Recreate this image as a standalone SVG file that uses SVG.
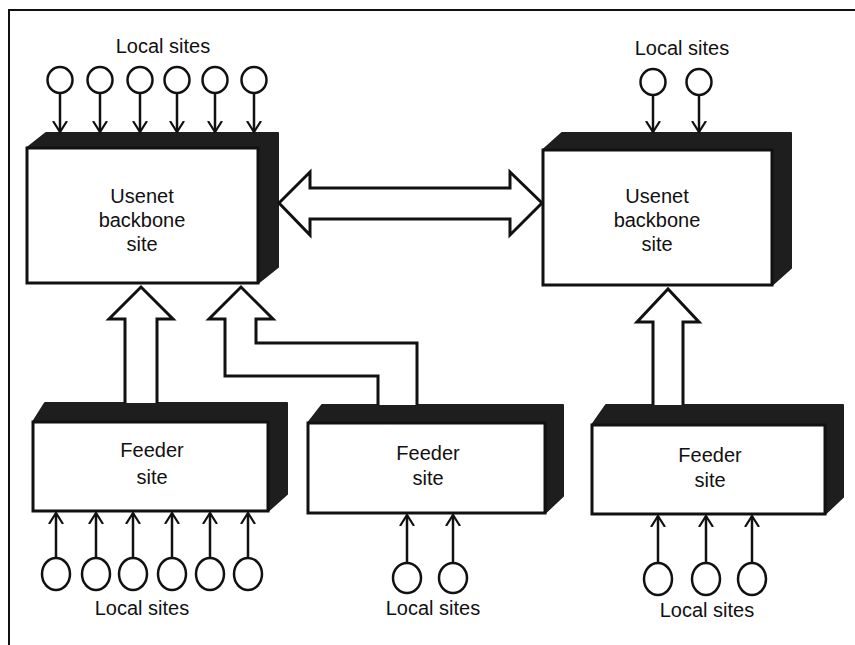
<svg xmlns="http://www.w3.org/2000/svg" width="855" height="645" viewBox="0 0 855 645">
<defs>
<style>
.frame{stroke:#111;stroke-width:2;fill:none}
.side{fill:#1e1e1e;stroke:#1e1e1e;stroke-width:2;stroke-linejoin:round}
.front{fill:#fff;stroke:#111;stroke-width:3}
.lbl{font-family:"Liberation Sans",Arial,sans-serif;font-size:20px;fill:#111;text-anchor:middle}
.site{fill:#fff;stroke:#111;stroke-width:2.5}
.thin{stroke:#111;stroke-width:2.5;fill:none}
.block{fill:#fff;stroke:#111;stroke-width:3;stroke-linejoin:miter}
</style>
<marker id="ah" viewBox="0 0 12 16" refX="11" refY="8" markerWidth="12" markerHeight="16" markerUnits="userSpaceOnUse" orient="auto">
<path d="M0,1 L11,8 L0,15" fill="none" stroke="#111" stroke-width="2.2"/>
</marker>
</defs>
<rect width="855" height="645" fill="#fff"/>
<path class="frame" d="M9,645 L9,10 L855,10"/>

<g id="backbone-left">
<polygon class="side" points="27,148 46,133 278,133 278,267 258,283 258,148"/>
<rect class="front" x="27" y="148" width="231" height="135"/>
<text class="lbl" x="142" y="203">Usenet</text>
<text class="lbl" x="142" y="227">backbone</text>
<text class="lbl" x="142" y="251">site</text>
</g>

<g id="backbone-right">
<polygon class="side" points="543,150 562,133 791,133 791,268 772,285 772,150"/>
<rect class="front" x="543" y="150" width="229" height="135"/>
<text class="lbl" x="657" y="203">Usenet</text>
<text class="lbl" x="657" y="227">backbone</text>
<text class="lbl" x="657" y="251">site</text>
</g>

<g id="feeder-left">
<polygon class="side" points="33,422 45,403 287,403 287,494 268,511 268,422"/>
<rect class="front" x="33" y="422" width="235" height="89"/>
<text class="lbl" x="152" y="457">Feeder</text>
<text class="lbl" x="152" y="484">site</text>
</g>

<g id="feeder-middle">
<polygon class="side" points="308,423 322,405 563,405 563,496 545,513 545,423"/>
<rect class="front" x="308" y="423" width="237" height="90"/>
<text class="lbl" x="428" y="460">Feeder</text>
<text class="lbl" x="428" y="485">site</text>
</g>

<g id="feeder-right">
<polygon class="side" points="592,425 606,405 843,405 843,497 825,514 825,425"/>
<rect class="front" x="592" y="425" width="233" height="89"/>
<text class="lbl" x="710" y="462">Feeder</text>
<text class="lbl" x="710" y="487">site</text>
</g>

<g id="local-top-left">
<text class="lbl" x="163" y="53">Local sites</text>
<ellipse class="site" cx="60" cy="80" rx="12.5" ry="13"/>
<ellipse class="site" cx="100" cy="80" rx="12.5" ry="13"/>
<ellipse class="site" cx="140" cy="80" rx="12.5" ry="13"/>
<ellipse class="site" cx="177" cy="80" rx="12.5" ry="13"/>
<ellipse class="site" cx="215" cy="80" rx="12.5" ry="13"/>
<ellipse class="site" cx="254" cy="80" rx="12.5" ry="13"/>
</g>

<g id="local-top-right">
<text class="lbl" x="682" y="55">Local sites</text>
<ellipse class="site" cx="653" cy="82" rx="12.5" ry="13"/>
<ellipse class="site" cx="699" cy="82" rx="12.5" ry="13"/>
</g>

<g id="local-bottom-left">
<ellipse class="site" cx="56" cy="574" rx="14" ry="16"/>
<ellipse class="site" cx="96" cy="574" rx="14" ry="16"/>
<ellipse class="site" cx="133" cy="574" rx="14" ry="16"/>
<ellipse class="site" cx="172" cy="574" rx="14" ry="16"/>
<ellipse class="site" cx="210" cy="574" rx="14" ry="16"/>
<ellipse class="site" cx="248" cy="574" rx="14" ry="16"/>
<text class="lbl" x="142" y="615">Local sites</text>
</g>

<g id="local-bottom-middle">
<ellipse class="site" cx="407" cy="578" rx="14" ry="15"/>
<ellipse class="site" cx="453" cy="578" rx="14" ry="15"/>
<text class="lbl" x="433" y="615">Local sites</text>
</g>

<g id="local-bottom-right">
<ellipse class="site" cx="658" cy="579" rx="14" ry="16"/>
<ellipse class="site" cx="706" cy="579" rx="14" ry="16"/>
<ellipse class="site" cx="752" cy="579" rx="14" ry="16"/>
<text class="lbl" x="707" y="617">Local sites</text>
</g>

<g id="connectors">
<!-- top-left local sites to backbone -->
<line class="thin" x1="60" y1="93" x2="60" y2="132" marker-end="url(#ah)"/>
<line class="thin" x1="100" y1="93" x2="100" y2="132" marker-end="url(#ah)"/>
<line class="thin" x1="140" y1="93" x2="140" y2="132" marker-end="url(#ah)"/>
<line class="thin" x1="177" y1="93" x2="177" y2="132" marker-end="url(#ah)"/>
<line class="thin" x1="215" y1="93" x2="215" y2="132" marker-end="url(#ah)"/>
<line class="thin" x1="254" y1="93" x2="254" y2="132" marker-end="url(#ah)"/>
<!-- top-right -->
<line class="thin" x1="653" y1="95" x2="653" y2="132" marker-end="url(#ah)"/>
<line class="thin" x1="699" y1="95" x2="699" y2="132" marker-end="url(#ah)"/>
<!-- bottom-left -->
<line class="thin" x1="56" y1="558" x2="56" y2="513" marker-end="url(#ah)"/>
<line class="thin" x1="96" y1="558" x2="96" y2="513" marker-end="url(#ah)"/>
<line class="thin" x1="133" y1="558" x2="133" y2="513" marker-end="url(#ah)"/>
<line class="thin" x1="172" y1="558" x2="172" y2="513" marker-end="url(#ah)"/>
<line class="thin" x1="210" y1="558" x2="210" y2="513" marker-end="url(#ah)"/>
<line class="thin" x1="248" y1="558" x2="248" y2="513" marker-end="url(#ah)"/>
<!-- bottom-middle -->
<line class="thin" x1="407" y1="563" x2="407" y2="515" marker-end="url(#ah)"/>
<line class="thin" x1="453" y1="563" x2="453" y2="515" marker-end="url(#ah)"/>
<!-- bottom-right -->
<line class="thin" x1="658" y1="563" x2="658" y2="516" marker-end="url(#ah)"/>
<line class="thin" x1="706" y1="563" x2="706" y2="516" marker-end="url(#ah)"/>
<line class="thin" x1="752" y1="563" x2="752" y2="516" marker-end="url(#ah)"/>
<!-- backbone to backbone double block arrow -->
<polygon class="block" points="279,203 310,172 310,188 510,188 510,172 542,203 510,235 510,219 310,219 310,235"/>
<!-- feeder-left to backbone-left -->
<path class="block" d="M125,403 L125,319 L109,319 L141,287 L173,319 L157,319 L157,403"/>
<!-- feeder-middle to backbone-left (bent) -->
<path class="block" d="M378,405 L378,376 L225,376 L225,319 L209,319 L241,287 L273,319 L256,319 L256,343 L417,343 L417,405"/>
<!-- feeder-right to backbone-right -->
<path class="block" d="M653,405 L653,322 L637,322 L668,289 L699,322 L683,322 L683,405"/>
</g>
</svg>
